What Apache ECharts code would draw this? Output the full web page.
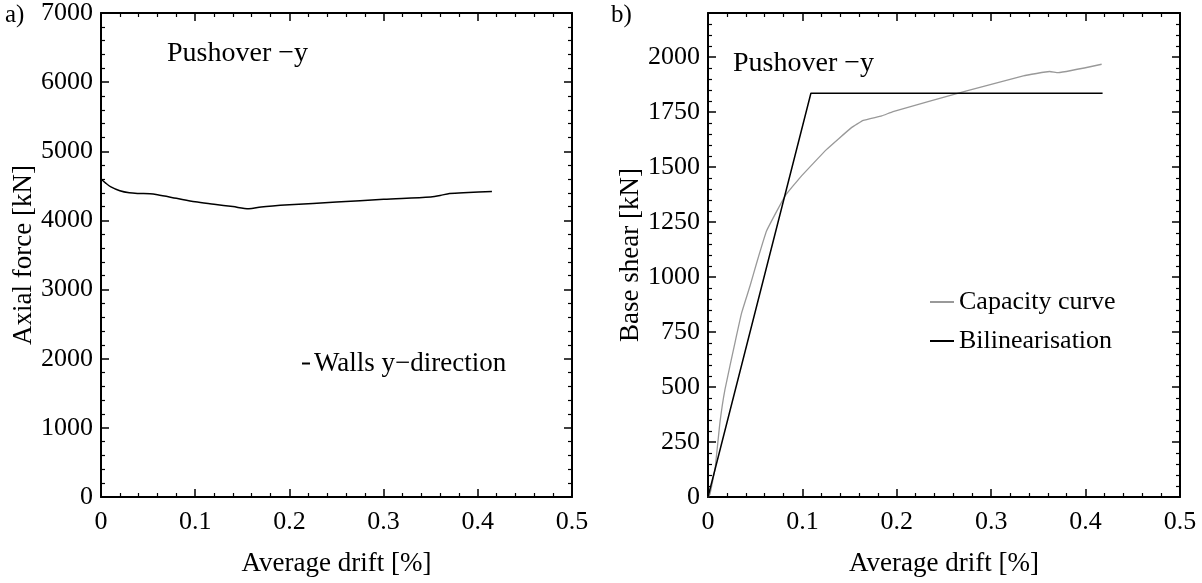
<!DOCTYPE html>
<html>
<head>
<meta charset="utf-8">
<script src="https://cdn.jsdelivr.net/npm/echarts@6/dist/echarts.min.js"></script>
<style>
  html, body { margin: 0; padding: 0; background: #fff; }
  #chart { width: 1202px; height: 583px; }
</style>
</head>
<body>
<div id="chart"></div>
<script>
// a) axial force in the y-direction walls
const axialDrift = [0, 0.005, 0.01, 0.02, 0.03, 0.04, 0.052, 0.06, 0.08, 0.1, 0.12, 0.14, 0.157, 0.17, 0.2, 0.25, 0.3, 0.35, 0.36, 0.37, 0.39, 0.415]
const axialForce = [4600, 4540, 4490, 4430, 4400, 4390, 4385, 4370, 4320, 4270, 4235, 4200, 4170, 4195, 4225, 4265, 4305, 4340, 4360, 4390, 4405, 4420]

// b) capacity curve and its bilinear idealisation
const capDrift = [0, 0.002, 0.0074, 0.0127, 0.018, 0.0286, 0.0357, 0.0445, 0.0516, 0.062, 0.0816, 0.0975, 0.1257, 0.152, 0.1645, 0.184, 0.196, 0.274, 0.334, 0.362, 0.371, 0.417]
const capShear = [0, 12, 126, 340, 489, 702, 838, 959, 1065, 1209, 1368, 1452, 1580, 1679, 1712, 1732, 1752, 1846, 1914, 1934, 1929, 1967]
const bilinDrift = [0, 0.109, 0.418]
const bilinShear = [0, 1835, 1835]

const xTicks = [0, 0.1, 0.2, 0.3, 0.4, 0.5]

const pairs = (xs, ys) => xs.map((x, i) => [x, ys[i]])

const font = 'Liberation Serif'
const tickFont = { fontFamily: font, fontSize: 26, color: '#000' }

function xAxisOf (gridIndex, top) {
  return {
    gridIndex,
    type: 'value',
    position: top ? 'top' : 'bottom',
    min: xTicks[0],
    max: xTicks[xTicks.length - 1],
    interval: 0.1,
    name: top ? '' : 'Average drift [%]',
    nameLocation: 'middle',
    nameGap: 53,
    nameTextStyle: { fontFamily: font, fontSize: 27, color: '#000' },
    axisLine: { show: true, onZero: false, lineStyle: { color: '#000', width: 2 } },
    axisTick: { show: true, inside: true, length: 8, lineStyle: { color: '#000', width: 1.5 } },
    minorTick: { show: true, splitNumber: 5, length: 4, lineStyle: { color: '#000', width: 1.2 } },
    axisLabel: { show: !top, margin: 12, formatter: v => String(v), ...tickFont },
    splitLine: { show: false }
  }
}

function yAxisOf (gridIndex, right, max, interval, name, gap) {
  return {
    gridIndex,
    type: 'value',
    position: right ? 'right' : 'left',
    min: 0,
    max,
    interval,
    name: right ? '' : name,
    nameLocation: 'middle',
    nameGap: gap,
    nameTextStyle: { fontFamily: font, fontSize: 27, color: '#000' },
    axisLine: { show: true, onZero: false, lineStyle: { color: '#000', width: 2 } },
    axisTick: { show: true, inside: true, length: 8, lineStyle: { color: '#000', width: 1.5 } },
    minorTick: { show: true, splitNumber: 5, length: 4, lineStyle: { color: '#000', width: 1.2 } },
    axisLabel: { show: !right, margin: 8, showMaxLabel: max % interval === 0, formatter: v => String(v), ...tickFont },
    splitLine: { show: false }
  }
}

const chart = echarts.init(document.getElementById('chart'))
chart.setOption({
  animation: false,
  backgroundColor: '#fff',
  grid: [
    { left: 101, right: 630, top: 13, bottom: 86 },
    { left: 708, right: 22, top: 13, bottom: 86 }
  ],
  xAxis: [xAxisOf(0, false), xAxisOf(0, true), xAxisOf(1, false), xAxisOf(1, true)],
  yAxis: [
    yAxisOf(0, false, 7000, 1000, 'Axial force [kN]', 61),
    yAxisOf(0, true, 7000, 1000),
    yAxisOf(1, false, 2200, 250, 'Base shear [kN]', 61),
    yAxisOf(1, true, 2200, 250)
  ],
  legend: [
    {
      data: ['Walls y\u2212direction'],
      left: 297,
      top: 345,
      icon: 'path://M0,0h8v2h-8z',
      itemWidth: 8,
      itemHeight: 2,
      itemGap: 4,
      textStyle: { fontFamily: font, fontSize: 27, color: '#000', padding: [0, 0, 0, -1] }
    },
    {
      data: ['Capacity curve', 'Bilinearisation'],
      left: 925,
      top: 284,
      orient: 'vertical',
      icon: 'path://M0,0h12v1h-12z',
      itemWidth: 24,
      itemHeight: 2,
      itemGap: 13,
      textStyle: { fontFamily: font, fontSize: 26, color: '#000' }
    }
  ],
  graphic: [
    { type: 'text', left: 5, top: 3, style: { text: 'a)', font: '25px "Liberation Serif"', fill: '#000' } },
    { type: 'text', left: 611, top: 3, style: { text: 'b)', font: '25px "Liberation Serif"', fill: '#000' } },
    { type: 'text', left: 167, top: 40, style: { text: 'Pushover \u2212y', font: '28px "Liberation Serif"', fill: '#000' } },
    { type: 'text', left: 733, top: 50, style: { text: 'Pushover \u2212y', font: '28px "Liberation Serif"', fill: '#000' } }
  ],
  series: [
    {
      name: 'Walls y\u2212direction',
      type: 'line',
      xAxisIndex: 0,
      yAxisIndex: 0,
      data: pairs(axialDrift, axialForce),
      smooth: 0.3,
      symbol: 'none',
      lineStyle: { color: '#000', width: 1.5 },
      itemStyle: { color: '#000' }
    },
    {
      name: 'Capacity curve',
      type: 'line',
      xAxisIndex: 2,
      yAxisIndex: 2,
      data: pairs(capDrift, capShear),
      smooth: 0.1,
      symbol: 'none',
      lineStyle: { color: '#999', width: 1.3 },
      itemStyle: { color: '#999' }
    },
    {
      name: 'Bilinearisation',
      type: 'line',
      xAxisIndex: 2,
      yAxisIndex: 2,
      data: pairs(bilinDrift, bilinShear),
      symbol: 'none',
      lineStyle: { color: '#000', width: 1.5 },
      itemStyle: { color: '#000' }
    }
  ]
})
</script>
</body>
</html>
